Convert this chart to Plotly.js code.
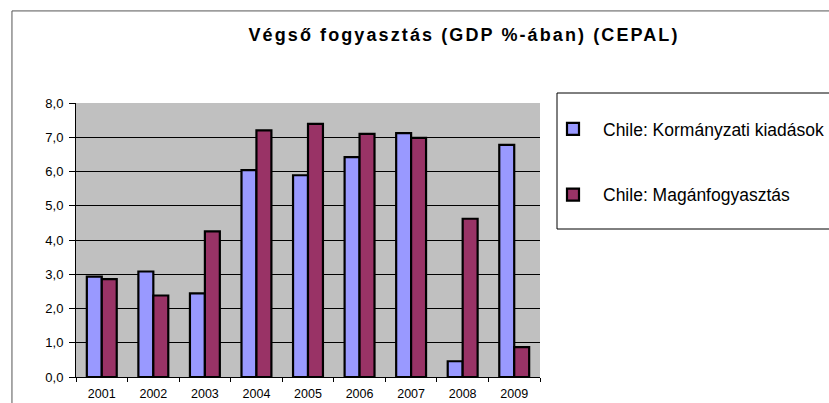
<!DOCTYPE html>
<html><head><meta charset="utf-8">
<script src="https://cdn.plot.ly/plotly-3.0.1.min.js"></script>
<style>html,body{margin:0;padding:0;background:#fff}
text.gtitle{letter-spacing:2.1px !important}</style>
</head><body>
<div id="chart" style="width:829px;height:403px"></div>
<script>
var years = ['2001','2002','2003','2004','2005','2006','2007','2008','2009'];
var govSpending = [2.93, 3.08, 2.44, 6.04, 5.89, 6.42, 7.12, 0.46, 6.78];
var privateConsumption = [2.86, 2.38, 4.25, 7.20, 7.39, 7.10, 6.98, 4.62, 0.87];
var seriesNames = ['Chile: Kormányzati kiadások', 'Chile: Magánfogyasztás'];
var yTicks = [0,1,2,3,4,5,6,7,8];

var traces = [
  {type:'bar', x:years, y:govSpending, name:seriesNames[0], legendgroup:'a',
   marker:{color:'#9999FF', line:{color:'#000', width:2.2}}},
  {type:'bar', x:years, y:privateConsumption, name:seriesNames[1], legendgroup:'b',
   marker:{color:'#993366', line:{color:'#000', width:2.2}}}
];
var fnt = 'Liberation Sans, Arial, sans-serif';
var layout = {
  width:829, height:403,
  margin:{l:76, r:289, t:103, b:26, autoexpand:false},
  paper_bgcolor:'#fff', plot_bgcolor:'#C0C0C0',
  separators:',.',
  barmode:'group', bargap:0.42, bargroupgap:0,
  title:{text:'Végső fogyasztás (GDP %-ában) (CEPAL)', font:{family:fnt, size:18, weight:'bold', color:'#000'},
    x:464/829, xref:'container', xanchor:'center', y:1-35/403, yref:'container', yanchor:'middle', automargin:false},
  font:{family:fnt, color:'#000'},
  xaxis:{type:'category', tickson:'boundaries', ticks:'outside', ticklen:4, tickcolor:'#000', automargin:false,
    ticklabelstandoff:5,
    showline:true, linecolor:'#000', linewidth:1, showgrid:false, tickfont:{size:12.5}, mirror:false},
  yaxis:{range:[0,8], tickvals:yTicks, tickformat:'.1f', ticks:'outside', ticklen:6, tickcolor:'#000', automargin:false,
    ticklabelstandoff:3,
    showline:true, linecolor:'#000', linewidth:1, showgrid:true, gridcolor:'#000', gridwidth:1,
    zeroline:false, tickfont:{size:13}},
  showlegend:true,
  legend:{x:(543-76)/464, xanchor:'left', y:(377-111)/274, yanchor:'top',
    traceorder:'grouped', tracegroupgap:40, bgcolor:'rgba(0,0,0,0)', borderwidth:0,
    itemwidth:50,
    font:{family:fnt, size:17.5, color:'#000'}},
  shapes:[
    {type:'rect', xref:'paper', yref:'paper', x0:-0.138, x1:1.8, y0:-0.3, y1:1.336,
     line:{color:'#555', width:1}, fillcolor:'rgba(0,0,0,0)', layer:'below'},
    {type:'rect', xref:'paper', yref:'paper', x0:(557-76)/464, x1:1.8, y0:(377-229)/274, y1:(377-93)/274,
     line:{color:'#000', width:1}, fillcolor:'rgba(0,0,0,0)'}
  ]
};
Plotly.newPlot('chart', traces, layout, {displayModeBar:false, staticPlot:true});
</script>
</body></html>
